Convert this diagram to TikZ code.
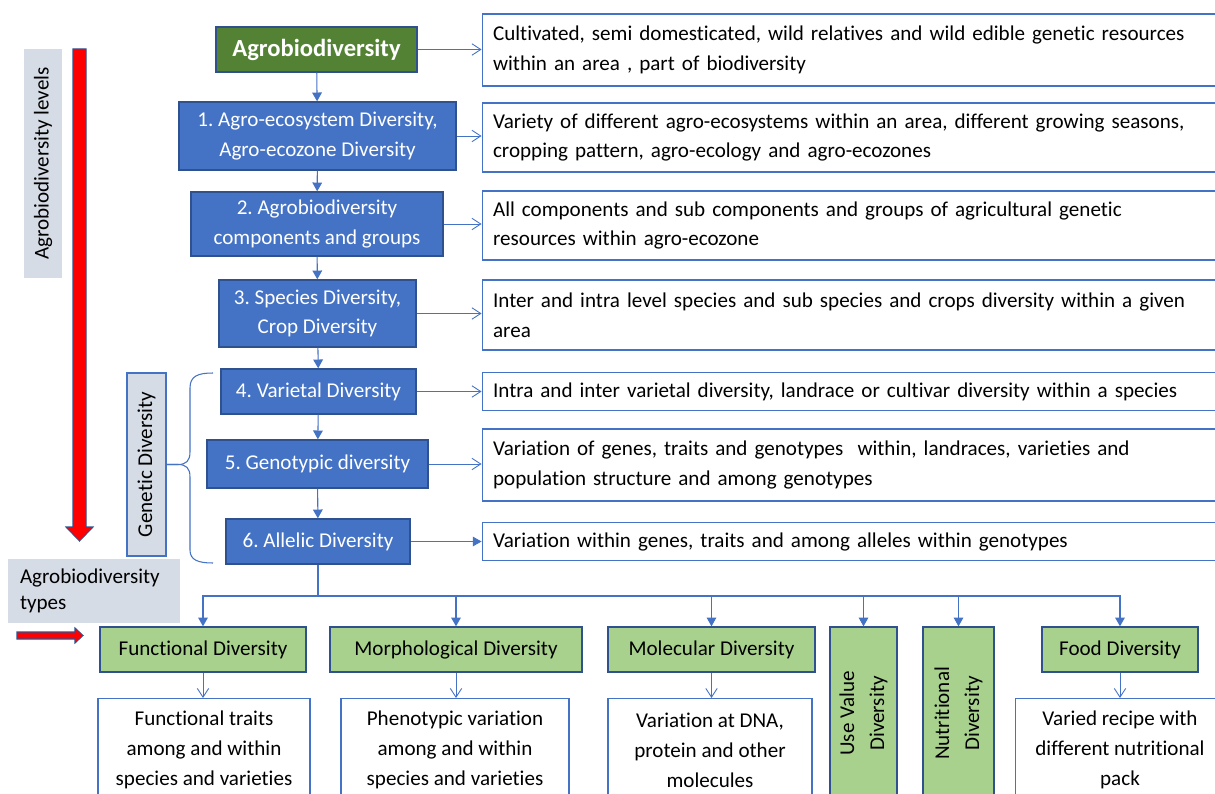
\documentclass[tikz,border=0pt]{standalone}
\usepackage{fontspec}
\setmainfont{Carlito}[Ligatures=NoCommon]
\usepackage{xcolor}
\usepackage{tikz}
\usetikzlibrary{arrows.meta,positioning}
\frenchspacing

\definecolor{agrogreen}{HTML}{548235}
\definecolor{boxblue}{HTML}{4472C4}
\definecolor{edgeblue}{HTML}{2F528F}
\definecolor{kindgreen}{HTML}{A9D18E}
\definecolor{sidegray}{HTML}{D6DCE5}

\begin{document}
\begin{tikzpicture}[
    x=0.02cm, y=-0.02cm,
    every node/.style={font=\fontsize{12}{17}\selectfont, inner sep=0pt},
    topbox/.style={draw=edgeblue, line width=0.8pt, fill=agrogreen, text=white, font=\fontsize{14}{17}\selectfont\bfseries},
    levelbox/.style={draw=edgeblue, line width=0.8pt, fill=boxblue, text=white, align=center},
    descbox/.style={draw=boxblue, line width=0.6pt, fill=white, align=left, text width=14.42cm, inner xsep=0.22cm},
    typebox/.style={draw=edgeblue, line width=0.8pt, fill=kindgreen, align=center, minimum height=0.9cm},
    notebox/.style={draw=boxblue, line width=0.6pt, fill=white, align=center, minimum height=2.06cm},
    sidebox/.style={fill=sidegray, align=center},
    fillarr/.style={draw=boxblue, line width=0.6pt, -{Triangle[length=5pt,width=5.5pt]}},
    openarr/.style={draw=boxblue, line width=0.5pt, -{Straight Barb[length=5pt,width=6.5pt]}},
    trunk/.style={draw=boxblue, line width=0.9pt},
    brace/.style={draw=boxblue, line width=0.6pt},
    redarrow/.style={fill=red, draw=edgeblue, line width=0.6pt}
]
    \useasboundingbox (0,0) rectangle (1215,794);
    \fill[white] (0,0) rectangle (1215,794);
    \clip (0,0) rectangle (1215,794);

    \node[topbox, minimum width=4.02cm, minimum height=0.9cm] (agro) at (316.5,49.5) {Agrobiodiversity};
    \node[levelbox, minimum width=5.54cm, minimum height=1.36cm] (l1) at (317.5,136) {1. Agro-ecosystem Diversity,\\Agro-ecozone Diversity};
    \node[levelbox, minimum width=5.04cm, minimum height=1.28cm] (l2) at (317,224) {2. Agrobiodiversity\\components and groups};
    \node[levelbox, minimum width=3.94cm, minimum height=1.34cm] (l3) at (317.5,313.5) {3. Species Diversity,\\Crop Diversity};
    \node[levelbox, minimum width=3.9cm, minimum height=0.9cm] (l4) at (318.5,391.5) {4. Varietal Diversity};
    \node[levelbox, minimum width=4.42cm, minimum height=0.96cm] (l5) at (317.5,464) {5. Genotypic diversity};
    \node[levelbox, minimum width=3.68cm, minimum height=0.9cm] (l6) at (318,541.5) {6. Allelic Diversity};

    \node[descbox, minimum height=1.44cm] (d0) at (853.5,50) {Cultivated, semi domesticated, wild relatives and wild edible genetic resources\\within an area , part of biodiversity};
    \node[descbox, minimum height=1.38cm] (d1) at (853.5,137.5) {Variety of different agro-ecosystems within an area, different growing seasons,\\cropping pattern, agro-ecology and agro-ecozones};
    \node[descbox, minimum height=1.38cm] (d2) at (853.5,225.5) {All components and sub components and groups of agricultural genetic\\resources within agro-ecozone};
    \node[descbox, minimum height=1.4cm] (d3) at (853.5,315) {Inter and intra level species and sub species and crops diversity within a given\\area};
    \node[descbox, minimum height=0.76cm] (d4) at (853.5,391.5) {Intra and inter varietal diversity, landrace or cultivar diversity within a species};
    \node[descbox, minimum height=1.44cm] (d5) at (853.5,465) {Variation of genes, traits and genotypes\ \ within, landraces, varieties and\\population structure and among genotypes};
    \node[descbox, minimum height=0.76cm] (d6) at (853.5,541.5) {Variation within genes, traits and among alleles within genotypes};

    \node[sidebox, rotate=90, minimum width=4.58cm, minimum height=0.76cm] (levels) at (43,163.5) {Agrobiodiversity levels};
    \node[sidebox, draw=boxblue, line width=0.6pt, rotate=90, minimum width=3.66cm, minimum height=0.78cm] (gen) at (146.5,464.5) {Genetic Diversity};
    \node[sidebox, align=left, font=\fontsize{12}{14.5}\selectfont, text width=2.96cm, inner xsep=0.24cm, minimum height=1.28cm] (types) at (94,591) {Agrobiodiversity\\types};

    \node[typebox, minimum width=4.12cm] (t1) at (203,649.5) {Functional Diversity};
    \node[typebox, minimum width=5.04cm] (t2) at (456,649.5) {Morphological Diversity};
    \node[typebox, minimum width=4.14cm] (t3) at (711.5,649.5) {Molecular Diversity};
    \node[typebox, rotate=90, minimum width=3.46cm, minimum height=1.34cm] (t4) at (863.5,713.5) {Use Value\\Diversity};
    \node[typebox, rotate=90, minimum width=3.46cm, minimum height=1.42cm] (t5) at (958.5,713.5) {Nutritional\\Diversity};
    \node[typebox, minimum width=3.12cm] (t6) at (1120,649.5) {Food Diversity};

    \node[notebox, minimum width=4.24cm] (n1) at (204,750) {Functional traits\\among and within\\species and varieties};
    \node[notebox, minimum width=4.56cm] (n2) at (455,750) {Phenotypic variation\\among and within\\species and varieties};
    \node[notebox, minimum width=4.08cm] (n3) at (710,750) {Variation at DNA,\\protein and other\\molecules};
    \node[notebox, minimum width=4.2cm] (n6) at (1120,750) {Varied recipe with\\different nutritional\\pack};

    \foreach \a/\b in {agro/l1,l1/l2,l2/l3,l3/l4,l4/l5,l5/l6}
        \draw[fillarr] (\a) -- (\b);
    \foreach \a/\b in {agro/d0,l1/d1,l2/d2,l3/d3,l4/d4,l5/d5}
        \draw[openarr] (\a.east) -- (\a.east -| \b.west);
    \draw[fillarr] (l6.east) -- (l6.east -| d6.west);

    \coordinate (split) at (318,596);
    \draw[trunk] (l6) -- (split);
    \foreach \t in {t1,t2,t3,t4,t5,t6}
        \draw[fillarr] (split) -| (\t);
    \foreach \t/\n in {t1/n1,t2/n2,t3/n3,t6/n6}
        \draw[openarr] (\t.south) -- (\t.south |- \n.north);

    \draw[brace] (213,373) .. controls (198,373) and (190,376) .. (190,388) -- (190,452)
        .. controls (190,461) and (186,464.5) .. (178,464.5) -- (gen.south);
    \draw[brace] (gen.south) -- (178,464.5) .. controls (186,464.5) and (190,468) .. (190,477)
        -- (190,550) .. controls (190,560) and (198,563) .. (213,563);

    \filldraw[redarrow] (73,49) -- (86,49) -- (86,527) -- (93,527) -- (79.5,541) -- (66,527) -- (73,527) -- cycle;
    \filldraw[redarrow] (17,632) -- (75,632) -- (75,628) -- (83,635.5) -- (75,643) -- (75,639) -- (17,639) -- cycle;
\end{tikzpicture}
\end{document}
